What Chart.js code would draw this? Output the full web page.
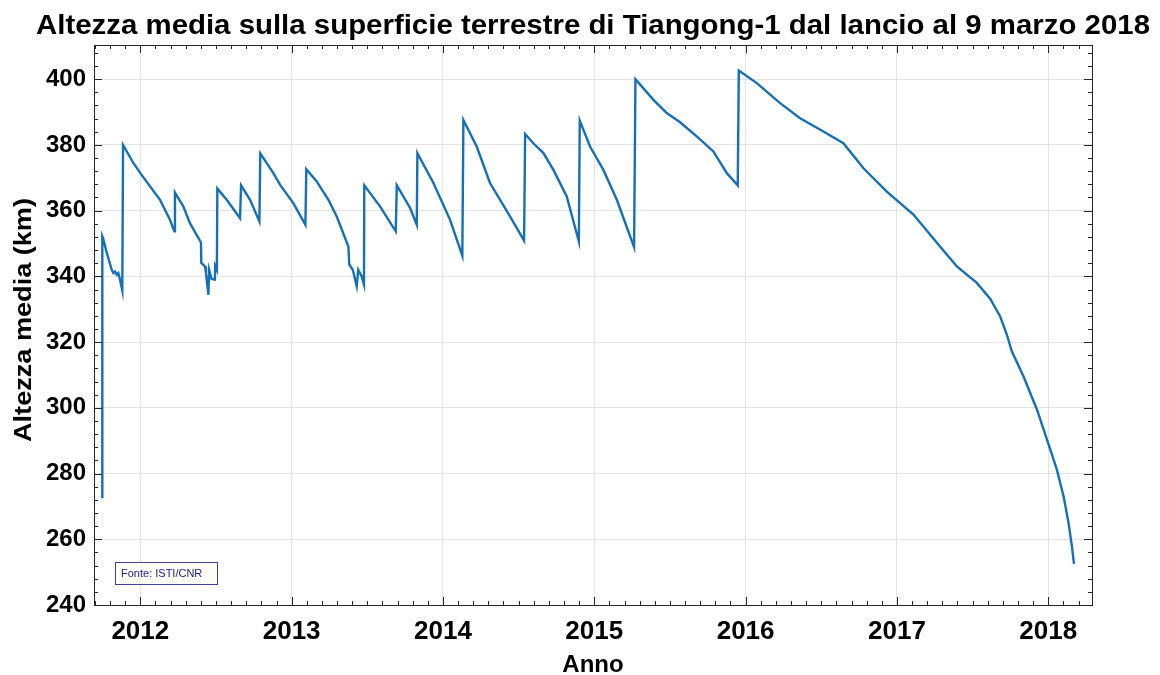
<!DOCTYPE html>
<html>
<head>
<meta charset="utf-8">
<script src="https://cdn.jsdelivr.net/npm/chart.js@4.4.1/dist/chart.umd.min.js"></script>
<style>
  html, body { margin: 0; padding: 0; background: #fff; }
  #wrap { width: 1160px; height: 675px; }
</style>
</head>
<body>
<div id="wrap"><canvas id="altChart" width="1160" height="675"></canvas></div>
<script>
// data (decimal year, mean altitude in km)
const decimalYear = [
  2011.749, 2011.749, 2011.755, 2011.773, 2011.811, 2011.822, 2011.833, 2011.844, 2011.855, 2011.866,
  2011.881, 2011.886, 2011.954, 2012.000, 2012.130, 2012.196, 2012.225, 2012.229, 2012.251, 2012.284,
  2012.328, 2012.401, 2012.403, 2012.428, 2012.434, 2012.450, 2012.455, 2012.471, 2012.493, 2012.495,
  2012.506, 2012.509, 2012.571, 2012.659, 2012.666, 2012.725, 2012.787, 2012.793, 2012.879, 2012.923,
  2013.011, 2013.091, 2013.097, 2013.166, 2013.243, 2013.298, 2013.375, 2013.381, 2013.404, 2013.430,
  2013.440, 2013.463, 2013.478, 2013.480, 2013.584, 2013.688, 2013.695, 2013.783, 2013.827, 2013.831,
  2013.937, 2014.047, 2014.128, 2014.135, 2014.223, 2014.311, 2014.444, 2014.536, 2014.543, 2014.597,
  2014.664, 2014.730, 2014.818, 2014.898, 2014.904, 2014.972, 2015.060, 2015.149, 2015.263, 2015.272,
  2015.391, 2015.479, 2015.567, 2015.677, 2015.787, 2015.876, 2015.948, 2015.955, 2016.074, 2016.228,
  2016.360, 2016.514, 2016.646, 2016.779, 2016.933, 2017.109, 2017.264, 2017.396, 2017.528, 2017.616,
  2017.682, 2017.726, 2017.759, 2017.836, 2017.925, 2017.991, 2018.057, 2018.101, 2018.134, 2018.156,
  2018.170
];
const altitudeKm = [
  272.5, 352.2, 351.5, 348.1, 342.0, 341.0, 341.5, 340.5, 341.0, 339.0,
  335.7, 380.0, 374.5, 371.4, 363.3, 357.2, 353.7, 365.5, 363.8, 361.3,
  356.2, 350.3, 344.1, 343.0, 341.0, 334.4, 342.0, 339.2, 339.0, 343.2,
  342.0, 366.7, 363.3, 357.7, 367.7, 363.3, 356.7, 377.4, 371.4, 367.9,
  362.3, 355.7, 372.6, 368.9, 363.3, 358.2, 349.1, 343.6, 342.0, 337.0,
  342.0, 340.0, 337.5, 367.7, 361.3, 353.7, 367.7, 360.8, 355.7, 377.5,
  368.4, 357.2, 346.3, 387.6, 379.5, 368.4, 358.2, 350.9, 383.3, 380.5,
  377.5, 372.4, 364.3, 350.6, 387.4, 379.5, 372.4, 363.3, 348.9, 400.0,
  393.7, 389.7, 386.9, 382.6, 378.0, 371.4, 367.7, 402.6, 398.8, 392.7,
  388.1, 384.1, 380.5, 372.9, 365.8, 358.8, 350.2, 343.0, 338.0, 333.2,
  327.8, 322.3, 317.2, 309.6, 299.5, 290.4, 281.2, 273.1, 265.0, 257.9,
  252.5
];
const yearTicks = [2012, 2013, 2014, 2015, 2016, 2017, 2018];
const altTicks = [240, 260, 280, 300, 320, 340, 360, 380, 400];

const chartTitle = 'Altezza media sulla superficie terrestre di Tiangong-1 dal lancio al 9 marzo 2018';
const yTitle = 'Altezza media (km)';
const sourceNote = 'Fonte: ISTI/CNR';

const FONT = '"Liberation Sans", Arial, Helvetica, sans-serif';

// text in the original is a bit wider than Arial, so stretch it along its run
function stretchedText(ctx, text, x, y, width, angle) {
  const w = ctx.measureText(text).width;
  ctx.save();
  ctx.translate(x, y);
  if (angle) ctx.rotate(angle);
  ctx.scale(width / w, 1);
  ctx.fillText(text, 0, 0);
  ctx.restore();
}

// matlab style: ticks pointing in, on all four sides, plus titles and source box
const boxPlugin = {
  id: 'boxPlugin',
  afterDraw(chart) {
    const { ctx, chartArea: a, scales } = chart;
    const xs = scales.x, ys = scales.y;
    ctx.save();
    ctx.strokeStyle = '#262626';
    ctx.lineWidth = 1;
    ctx.beginPath();
    // minor x ticks every 0.1 year
    for (let v = Math.ceil(xs.min * 10); v <= Math.floor(xs.max * 10); v++) {
      const px = Math.round(xs.getPixelForValue(v / 10)) + 0.5;
      const len = v % 10 === 0 ? 8 : 4;
      ctx.moveTo(px, a.bottom); ctx.lineTo(px, a.bottom - len);
      ctx.moveTo(px, a.top); ctx.lineTo(px, a.top + len);
    }
    // minor y ticks every 4 km
    for (let v = Math.ceil(ys.min / 4) * 4; v <= ys.max; v += 4) {
      const py = Math.round(ys.getPixelForValue(v)) + 0.5;
      const len = v % 20 === 0 ? 8 : 4;
      ctx.moveTo(a.left, py); ctx.lineTo(a.left + len, py);
      ctx.moveTo(a.right, py); ctx.lineTo(a.right - len, py);
    }
    ctx.stroke();
    ctx.strokeRect(Math.round(a.left) + 0.5, Math.round(a.top) + 0.5,
      Math.round(a.right - a.left), Math.round(a.bottom - a.top));

    // chart title
    ctx.fillStyle = '#000';
    ctx.font = 'bold 27px ' + FONT;
    ctx.textAlign = 'center';
    ctx.textBaseline = 'alphabetic';
    stretchedText(ctx, chartTitle, (a.left + a.right) / 2, 34, 1114, 0);

    // y axis title
    ctx.font = 'bold 24px ' + FONT;
    ctx.textBaseline = 'middle';
    stretchedText(ctx, yTitle, 24, (a.top + a.bottom) / 2 - 5, 244, -Math.PI / 2);

    // source box
    const bx = a.left + 21, by = a.bottom - 43;
    ctx.fillStyle = '#fdfdf5';
    ctx.fillRect(bx, by, 102, 22);
    ctx.strokeStyle = '#4040a0';
    ctx.strokeRect(bx + 0.5, by + 0.5, 102, 22);
    ctx.fillStyle = '#23239a';
    ctx.font = '11px ' + FONT;
    ctx.textAlign = 'left';
    ctx.textBaseline = 'middle';
    ctx.fillText(sourceNote, bx + 6, by + 12);
    ctx.restore();
  }
};

const canvas = document.getElementById('altChart');
const ctx = canvas.getContext('2d');

const chart = new Chart(ctx, {
  type: 'line',
  data: {
    datasets: [{
      label: 'Altezza media',
      data: decimalYear.map((x, i) => ({ x: x, y: altitudeKm[i] })),
      borderColor: '#1570b8',
      borderWidth: 2.4,
      pointRadius: 0,
      tension: 0,
      fill: false
    }]
  },
  options: {
    responsive: false,
    animation: false,
    layout: { padding: { top: 45, right: 68, left: 0, bottom: 0 } },
    plugins: {
      legend: { display: false },
      tooltip: { enabled: false }
    },
    scales: {
      x: {
        type: 'linear',
        min: 2011.694,
        max: 2018.289,
        afterBuildTicks: s => { s.ticks = yearTicks.map(v => ({ value: v })); },
        afterFit: s => { s.height = 70; },
        border: { display: false },
        grid: { color: '#e3e3e3', drawTicks: false },
        ticks: {
          padding: 11,
          color: '#000',
          font: { family: FONT, size: 26, weight: 'bold' },
          callback: v => String(v)
        },
        title: {
          display: true,
          text: 'Anno',
          color: '#000',
          padding: { top: 0, bottom: 0 },
          font: { family: FONT, size: 24, weight: 'bold', lineHeight: 0.8 }
        }
      },
      y: {
        min: 240,
        max: 410.4,
        afterBuildTicks: s => { s.ticks = altTicks.map(v => ({ value: v })); },
        afterFit: s => { s.width = 94; },
        border: { display: false },
        grid: { color: '#e3e3e3', drawTicks: false },
        ticks: {
          padding: 8,
          color: '#000',
          font: { family: FONT, size: 24, weight: 'bold' }
        },
        title: { display: false }
      }
    }
  },
  plugins: [boxPlugin]
});
</script>
</body>
</html>
